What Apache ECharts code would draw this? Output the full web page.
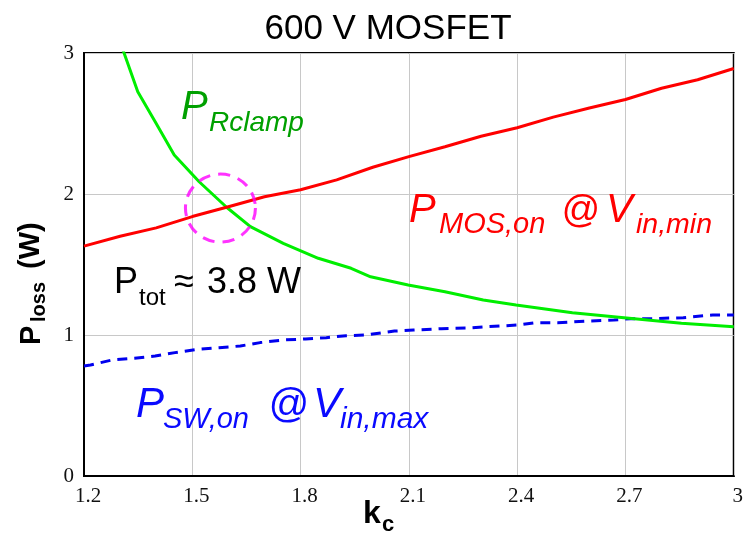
<!DOCTYPE html>
<html><head><meta charset="utf-8">
<script src="https://cdn.jsdelivr.net/npm/echarts@6/dist/echarts.min.js"></script>
<style>html,body{margin:0;padding:0;background:#fff}#c{width:746px;height:537px}</style>
</head><body><div id="c"></div>
<script>
// ---- data ----
const xTickLabels = ['1.2','1.5','1.8','2.1','2.4','2.7','3'];
const yTickLabels = ['0','1','2','3'];

const mosKc = [1.2,1.3,1.4,1.5,1.6,1.7,1.8,1.9,2.0,2.1,2.2,2.3,2.4,2.5,2.6,2.7,2.8,2.9,3.0];
const mosP  = [1.63,1.70,1.76,1.84,1.91,1.98,2.03,2.10,2.19,2.265,2.335,2.41,2.47,2.545,2.61,2.67,2.75,2.81,2.89];

const clampKc = [1.30,1.311,1.349,1.40,1.45,1.519,1.595,1.661,1.752,1.849,1.94,1.994,2.098,2.2,2.306,2.397,2.553,2.696,2.855,3.0];
const clampP  = [3.07,3.0,2.725,2.50,2.277,2.087,1.906,1.768,1.65,1.544,1.473,1.413,1.355,1.307,1.248,1.213,1.158,1.123,1.083,1.059];

const swKc = [1.2,1.218,1.278,1.34,1.397,1.452,1.514,1.574,1.633,1.688,1.754,1.814,1.871,1.926,1.981,2.06,2.113,2.19,2.269,2.319,2.402,2.448,2.512,2.594,2.668,2.713,2.777,2.86,2.942,3.0];
const swP  = [0.78,0.787,0.823,0.835,0.851,0.875,0.898,0.91,0.922,0.946,0.965,0.972,0.981,0.995,1.0,1.028,1.035,1.045,1.05,1.059,1.071,1.087,1.087,1.099,1.106,1.116,1.116,1.123,1.142,1.142];

const crossKc = [1.578];
const crossP  = [1.9];

const zip = (a, b) => a.map((v, i) => [v, b[i]]);

const chart = echarts.init(document.getElementById('c'), null, {renderer: 'canvas'});

const SANS = 'Liberation Sans, Arial, sans-serif';
const SERIF = 'Liberation Serif, Times New Roman, serif';
const mid = (baseline, f) => baseline - 0.3465 * f;

function txt(text, x, baseline, size, color, opts) {
  opts = opts || {};
  return {
    type: 'text', x: x, y: mid(baseline, size), z: 100,
    style: {
      text: text, fill: color, fontFamily: SANS, fontSize: size,
      fontStyle: opts.italic ? 'italic' : 'normal',
      fontWeight: opts.bold ? 'bold' : 'normal',
      align: opts.align || 'left', verticalAlign: 'middle'
    }
  };
}

const GREEN_T = '#00a000', RED_T = '#ff0000', BLUE_T = '#0a0aff';

const graphics = [
  txt('600 V MOSFET', 388, 41, 35, '#000', {align: 'center'}),
  // P_Rclamp
  txt('P', 181, 121.7, 40, GREEN_T, {italic: true}),
  txt('Rclamp', 209, 132.7, 28, GREEN_T, {italic: true}),
  // P_MOS,on @ V_in,min
  txt('P', 409, 225, 40, RED_T, {italic: true}),
  txt('MOS,on', 439, 235, 29, RED_T, {italic: true}),
  txt('@', 561, 225, 38, RED_T, {italic: true}),
  txt('V', 606, 225, 40, RED_T, {italic: true}),
  txt('in,min', 636, 235, 28.5, RED_T, {italic: true}),
  // P_SW,on @ V_in,max
  txt('P', 136, 420, 42, BLUE_T, {italic: true}),
  txt('SW,on', 163, 430, 29, BLUE_T, {italic: true}),
  txt('@', 268, 420, 40, BLUE_T, {italic: true}),
  txt('V', 313, 420, 42, BLUE_T, {italic: true}),
  txt('in,max', 340, 430, 30, BLUE_T, {italic: true}),
  // P_tot ≈ 3.8 W
  txt('P', 114, 295.7, 36, '#000'),
  txt('tot', 139, 306.7, 24, '#000'),
  txt('\u2248', 174, 295.7, 36, '#000'),
  txt('3.8 W', 207, 295.7, 36, '#000'),
  // x axis name k_c
  txt('k', 363, 525, 32, '#000', {bold: true}),
  txt('c', 382, 533, 22, '#000', {bold: true}),
  // y axis name P_loss (W), rotated
  {
    type: 'group', x: 42, y: 345, rotation: Math.PI / 2, z: 100,
    children: [
      {type: 'text', x: 0, y: -0.3465 * 29, style: {text: 'P', fill: '#000', fontFamily: SANS, fontSize: 29, fontWeight: 'bold', verticalAlign: 'middle'}},
      {type: 'text', x: 23, y: 4.5 - 0.3465 * 20, style: {text: 'loss', fill: '#000', fontFamily: SANS, fontSize: 20, fontWeight: 'bold', verticalAlign: 'middle'}},
      {type: 'text', x: 76, y: -1 - 0.3465 * 29, style: {text: '(W)', fill: '#000', fontFamily: SANS, fontSize: 29, fontWeight: 'bold', verticalAlign: 'middle'}}
    ]
  }
];

const option = {
  animation: false,
  backgroundColor: '#fff',
  grid: {left: 84, right: 7, top: 53, bottom: 61, show: true, borderColor: '#000', borderWidth: 2, backgroundColor: 'transparent'},
  xAxis: {
    type: 'value', min: 1.2, max: 3.0, interval: 0.3,
    axisLine: {show: true, lineStyle: {color: '#000', width: 2}},
    axisTick: {show: false},
    splitLine: {show: true, lineStyle: {color: '#c8c8c8', width: 1}},
    axisLabel: {
      color: '#111', fontFamily: SERIF, fontSize: 21, margin: 10, padding: [0, 0, 0, 8],
      formatter: v => xTickLabels[Math.round((v - 1.2) / 0.3)]
    }
  },
  yAxis: {
    type: 'value', min: 0, max: 3, interval: 1,
    axisLine: {show: true, lineStyle: {color: '#000', width: 2}},
    axisTick: {show: false},
    splitLine: {show: true, lineStyle: {color: '#c8c8c8', width: 1}},
    axisLabel: {
      color: '#111', fontFamily: SERIF, fontSize: 21, margin: 10, padding: [8, 0, 0, 0],
      formatter: v => yTickLabels[Math.round(v)]
    }
  },
  series: [
    {type: 'line', data: zip(clampKc, clampP), showSymbol: false, clip: true, z: 3,
     lineStyle: {color: '#00ee00', width: 3}},
    {type: 'line', data: zip(swKc, swP), showSymbol: false, z: 2,
     lineStyle: {color: '#0000ee', width: 3, type: [10, 7]}},
    {type: 'line', data: zip(mosKc, mosP), showSymbol: false, z: 4,
     lineStyle: {color: '#ff0000', width: 3}},
    {type: 'scatter', data: zip(crossKc, crossP), symbol: 'circle', symbolSize: [70, 68], z: 5,
     itemStyle: {color: 'rgba(0,0,0,0)', borderColor: '#ff00ff', borderWidth: 3, borderType: [12, 8]},
     emphasis: {disabled: true}}
  ],
  graphic: graphics
};
chart.setOption(option);
</script>
</body></html>
